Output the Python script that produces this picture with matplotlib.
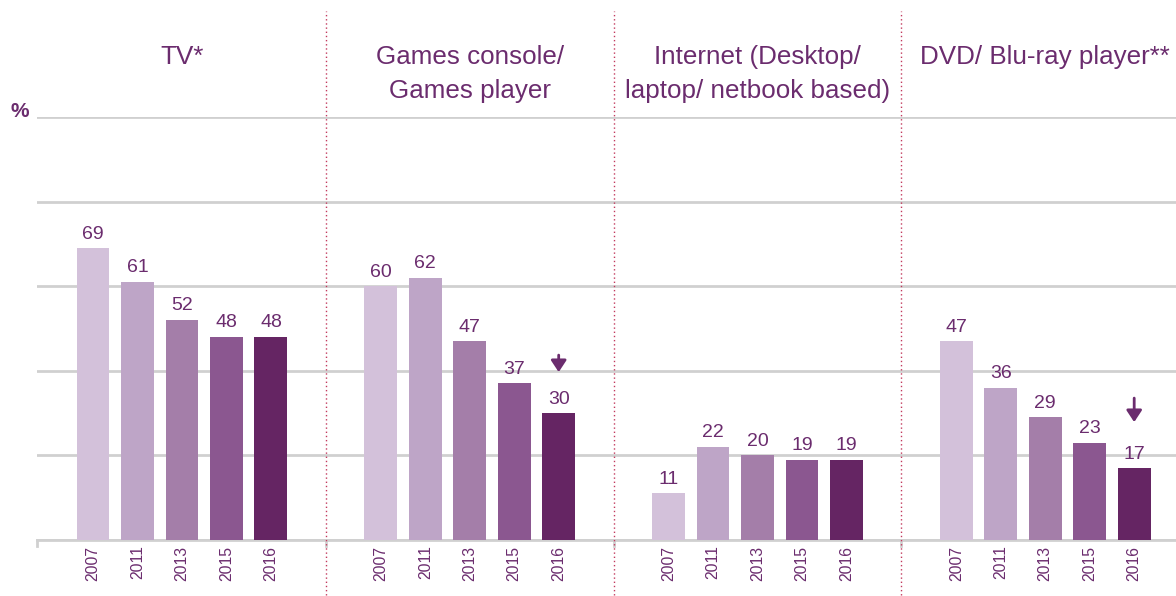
import numpy as np
import matplotlib.pyplot as plt
from matplotlib import transforms

plt.rcParams['font.family'] = ['Liberation Sans', 'DejaVu Sans']

groups = ["TV*", "Games console/\nGames player", "Internet (Desktop/\nlaptop/ netbook based)",
          "DVD/ Blu-ray player**"]
years = ["2007", "2011", "2013", "2015", "2016"]
values = [
    [69, 61, 52, 48, 48],
    [60, 62, 47, 37, 30],
    [11, 22, 20, 19, 19],
    [47, 36, 29, 23, 17],
]
# groups with a significant decrease marker on 2016
arrow_groups = [1, 3]

colors = ["#d3c1da", "#bea5c7", "#a47ea9", "#8b5790", "#652563"]
TEXT = "#6b2c6e"
GRID = "#d0d0d0"
SEP = "#c23a5e"

STRIDE = 6.47  # group spacing in bar units
# arrow tip / tail heights above the bar top, in pixels
ARROW_PX = {1: (41, 58), 3: (46, 70)}

fig = plt.figure(figsize=(11.76, 5.96), dpi=100)
ax = fig.add_axes([37 / 1176, 56 / 596, 1 - 37 / 1176, (540 - 117) / 596])

ax.set_xlim(-1.26, 3 * STRIDE + 4 + 0.94)
ax.set_ylim(0, 100)

xs_all, labels_all = [], []
for g, vals in enumerate(values):
    xs = g * STRIDE + np.arange(len(vals))
    ax.bar(xs, vals, width=0.74, color=colors, zorder=3)
    for x, v in zip(xs, vals):
        ax.annotate(str(v), (x, v), xytext=(0, 4), textcoords="offset points",
                    ha="center", va="bottom", fontsize=14, color=TEXT, zorder=4)
    xs_all += list(xs)
    labels_all += years
    # group titles, top aligned
    ax.text(g * STRIDE + 2, 1 - 45 / 596, groups[g],
            transform=transforms.blended_transform_factory(ax.transData, fig.transFigure),
            ha="center", va="top", fontsize=18.7, color=TEXT, linespacing=1.55)

for g in arrow_groups:
    x = g * STRIDE + 4
    v = values[g][-1]
    tip, tail = ARROW_PX[g]
    tr_tip = transforms.offset_copy(ax.transData, fig, x=0, y=tip, units="dots")
    tr_tail = transforms.offset_copy(ax.transData, fig, x=0, y=tail, units="dots")
    ax.annotate("", xy=(x, v), xycoords=tr_tip, xytext=(x, v), textcoords=tr_tail,
                arrowprops=dict(arrowstyle="-|>,head_length=0.5,head_width=0.33",
                                color=TEXT, lw=2, mutation_scale=14,
                                shrinkA=0, shrinkB=0),
                annotation_clip=False)

ax.set_yticks([0, 20, 40, 60, 80, 100])
ax.yaxis.grid(True, color=GRID, lw=2)
ax.tick_params(axis="y", length=0, labelleft=False)
ax.set_xticks(xs_all)
ax.set_xticklabels(labels_all, rotation=90, fontsize=11.3, color=TEXT)
ax.tick_params(axis="x", length=0, pad=4)
for s in ["top", "right", "left"]:
    ax.spines[s].set_visible(False)
ax.spines["bottom"].set_color(GRID)
ax.spines["bottom"].set_linewidth(2)

# dotted separators between groups
for g in range(1, 4):
    xsep = g * STRIDE - (STRIDE - 4) / 2
    ax.plot([xsep, xsep], [-13, 125], color=SEP, lw=1, ls=(0, (1, 2)),
            clip_on=False, zorder=5)
    ax.plot([xsep, xsep], [0, -1.5], color=GRID, lw=2, clip_on=False)
ax.plot([-1.26, -1.26], [0, -1.5], color=GRID, lw=2, clip_on=False)

fig.text(20 / 1176, 1 - 112 / 596, "%", fontsize=15, fontweight="bold",
         color=TEXT, ha="center", va="center")

fig.savefig("out.png", dpi=100)
